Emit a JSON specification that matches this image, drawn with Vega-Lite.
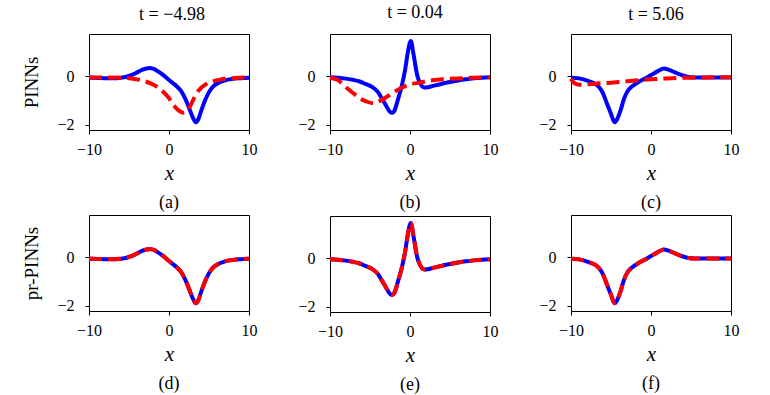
{
  "$schema": "https://vega.github.io/schema/vega-lite/v6.json",
  "background": "white",
  "padding": {"left": 22, "top": 4, "right": 5, "bottom": 2},
  "config": {
    "font": "Liberation Serif",
    "view": {"stroke": "black", "strokeWidth": 1},
    "axis": {"grid": false, "domain": false, "tickColor": "black", "tickSize": 4, "tickWidth": 1, "labelFontSize": 16, "labelColor": "black", "labelFont": "Liberation Serif", "titleFont": "Liberation Serif", "titleFontWeight": "normal", "titleColor": "black", "labelFlush": false, "labelOverlap": false},
    "axisX": {"labelFont": "Liberation Serif", "titleFontStyle": "italic", "titleFontSize": 21, "labelPadding": 7, "titlePadding": 5},
    "axisY": {"labelFont": "Liberation Serif", "titleFontSize": 19, "labelPadding": 11, "titlePadding": 15},
    "title": {"font": "Liberation Serif", "fontWeight": "normal", "fontSize": 18, "color": "black"},
    "concat": {"spacing": 39}
  },
  "datasets": {
    "exact_a": [{"x":-10,"y":-0.05},{"x":-9,"y":-0.06},{"x":-8,"y":-0.07},{"x":-7,"y":-0.07},{"x":-6,"y":-0.05},{"x":-5.3,"y":-0.01},{"x":-4.8,"y":0.04},{"x":-4.3,"y":0.11},{"x":-3.8,"y":0.2},{"x":-3.3,"y":0.28},{"x":-2.8,"y":0.33},{"x":-2.35,"y":0.35},{"x":-2,"y":0.32},{"x":-1.5,"y":0.24},{"x":-1,"y":0.13},{"x":-0.5,"y":0.0},{"x":0,"y":-0.15},{"x":0.5,"y":-0.28},{"x":1,"y":-0.42},{"x":1.5,"y":-0.6},{"x":2,"y":-0.9},{"x":2.5,"y":-1.3},{"x":3,"y":-1.72},{"x":3.35,"y":-1.9},{"x":3.7,"y":-1.75},{"x":4,"y":-1.45},{"x":4.5,"y":-1.0},{"x":5,"y":-0.65},{"x":5.5,"y":-0.42},{"x":6,"y":-0.3},{"x":6.5,"y":-0.22},{"x":7,"y":-0.16},{"x":8,"y":-0.1},{"x":9,"y":-0.07},{"x":10,"y":-0.05}],
    "pinn_a": [{"x":-10,"y":-0.04},{"x":-8,"y":-0.04},{"x":-6,"y":-0.05},{"x":-5,"y":-0.07},{"x":-4,"y":-0.12},{"x":-3,"y":-0.2},{"x":-2,"y":-0.33},{"x":-1,"y":-0.55},{"x":0,"y":-0.9},{"x":0.5,"y":-1.15},{"x":1,"y":-1.35},{"x":1.5,"y":-1.47},{"x":1.8,"y":-1.5},{"x":2.2,"y":-1.45},{"x":2.7,"y":-1.2},{"x":3.2,"y":-0.85},{"x":3.7,"y":-0.58},{"x":4.5,"y":-0.35},{"x":5.5,"y":-0.2},{"x":6.5,"y":-0.12},{"x":8,"y":-0.07},{"x":10,"y":-0.04}],
    "exact_b": [{"x":-10,"y":-0.03},{"x":-9,"y":-0.05},{"x":-8,"y":-0.09},{"x":-7,"y":-0.15},{"x":-6.4,"y":-0.2},{"x":-5.5,"y":-0.32},{"x":-4.75,"y":-0.43},{"x":-4,"y":-0.65},{"x":-3.5,"y":-0.92},{"x":-3,"y":-1.2},{"x":-2.6,"y":-1.43},{"x":-2.3,"y":-1.51},{"x":-2,"y":-1.45},{"x":-1.5,"y":-0.95},{"x":-1,"y":-0.35},{"x":-0.6,"y":0.3},{"x":-0.3,"y":0.95},{"x":0,"y":1.42},{"x":0.1,"y":1.47},{"x":0.45,"y":0.9},{"x":0.9,"y":0.05},{"x":1.3,"y":-0.3},{"x":1.8,"y":-0.46},{"x":2.2,"y":-0.45},{"x":3,"y":-0.38},{"x":4,"y":-0.3},{"x":5,"y":-0.23},{"x":6,"y":-0.17},{"x":7,"y":-0.12},{"x":8,"y":-0.08},{"x":9,"y":-0.05},{"x":10,"y":-0.03}],
    "pinn_b": [{"x":-10,"y":-0.05},{"x":-9,"y":-0.15},{"x":-8.5,"y":-0.3},{"x":-8,"y":-0.45},{"x":-7,"y":-0.72},{"x":-6.4,"y":-0.88},{"x":-5.5,"y":-1.03},{"x":-4.6,"y":-1.11},{"x":-3.8,"y":-1.02},{"x":-2.7,"y":-0.8},{"x":-2,"y":-0.65},{"x":-1,"y":-0.46},{"x":0,"y":-0.33},{"x":1.3,"y":-0.25},{"x":2,"y":-0.2},{"x":3,"y":-0.15},{"x":4,"y":-0.12},{"x":5,"y":-0.1},{"x":6,"y":-0.08},{"x":8,"y":-0.05},{"x":10,"y":-0.03}],
    "exact_c": [{"x":-10,"y":-0.05},{"x":-9,"y":-0.08},{"x":-7.8,"y":-0.19},{"x":-7,"y":-0.3},{"x":-6.5,"y":-0.44},{"x":-6,"y":-0.7},{"x":-5.5,"y":-1.13},{"x":-5,"y":-1.55},{"x":-4.55,"y":-1.9},{"x":-4.2,"y":-1.75},{"x":-3.8,"y":-1.4},{"x":-3.4,"y":-0.95},{"x":-3,"y":-0.65},{"x":-2.6,"y":-0.48},{"x":-2.2,"y":-0.37},{"x":-1.5,"y":-0.22},{"x":-1,"y":-0.13},{"x":-0.5,"y":-0.04},{"x":0,"y":0.06},{"x":0.5,"y":0.15},{"x":1,"y":0.25},{"x":1.6,"y":0.33},{"x":2.2,"y":0.28},{"x":3,"y":0.17},{"x":3.5,"y":0.1},{"x":4,"y":0.04},{"x":4.7,"y":-0.02},{"x":5.5,"y":-0.04},{"x":7,"y":-0.04},{"x":10,"y":-0.04}],
    "pinn_c": [{"x":-10,"y":-0.1},{"x":-9.7,"y":-0.25},{"x":-9.3,"y":-0.32},{"x":-9,"y":-0.34},{"x":-8,"y":-0.33},{"x":-7,"y":-0.3},{"x":-6,"y":-0.28},{"x":-5,"y":-0.26},{"x":-4,"y":-0.23},{"x":-3,"y":-0.2},{"x":-2,"y":-0.17},{"x":-1,"y":-0.14},{"x":0,"y":-0.12},{"x":1,"y":-0.1},{"x":2,"y":-0.08},{"x":3.5,"y":-0.06},{"x":5,"y":-0.05},{"x":7,"y":-0.04},{"x":10,"y":-0.03}]
  },
  "hconcat": [
    {
      "title": {"text": "t = −4.98", "anchor": "middle", "dx": 32, "offset": 10},
      "spacing": 1,
      "vconcat": [
        {"width": 160, "height": 96, "title": {"text": "(a)", "orient": "bottom", "offset": 11},
         "layer": [
          {"data": {"name": "exact_a"}, "mark": {"type": "line", "color": "#0000ff", "strokeWidth": 4, "interpolate": "monotone"},
           "encoding": {"x": {"field": "x", "type": "quantitative", "scale": {"domain": [-10, 10]}, "axis": {"values": [-10, 0, 10], "title": "x"}},
                        "y": {"field": "y", "type": "quantitative", "scale": {"domain": [-2.22, 1.76], "nice": false, "zero": false}, "axis": {"values": [-2, 0], "title": "PINNs"}}}},
          {"data": {"name": "pinn_a"}, "mark": {"type": "line", "color": "#ff0000", "strokeWidth": 4, "strokeDash": [13, 6], "interpolate": "monotone"},
           "encoding": {"x": {"field": "x", "type": "quantitative"}, "y": {"field": "y", "type": "quantitative"}}}
         ]},
        {"width": 160, "height": 96, "title": {"text": "(d)", "orient": "bottom", "offset": 11},
         "layer": [
          {"data": {"name": "exact_a"}, "mark": {"type": "line", "color": "#0000ff", "strokeWidth": 4, "interpolate": "monotone"},
           "encoding": {"x": {"field": "x", "type": "quantitative", "scale": {"domain": [-10, 10]}, "axis": {"values": [-10, 0, 10], "title": "x"}},
                        "y": {"field": "y", "type": "quantitative", "scale": {"domain": [-2.22, 1.76], "nice": false, "zero": false}, "axis": {"values": [-2, 0], "title": "pr-PINNs"}}}},
          {"data": {"name": "exact_a"}, "mark": {"type": "line", "color": "#ff0000", "strokeWidth": 4, "strokeDash": [13, 6], "interpolate": "monotone"},
           "encoding": {"x": {"field": "x", "type": "quantitative"}, "y": {"field": "y", "type": "quantitative"}}}
         ]}
      ]
    },
    {
      "title": {"text": "t = 0.04", "anchor": "middle", "dx": 17, "offset": 10},
      "spacing": 1,
      "vconcat": [
        {"width": 160, "height": 96, "title": {"text": "(b)", "orient": "bottom", "offset": 11},
         "layer": [
          {"data": {"name": "exact_b"}, "mark": {"type": "line", "color": "#0000ff", "strokeWidth": 4, "interpolate": "monotone"},
           "encoding": {"x": {"field": "x", "type": "quantitative", "scale": {"domain": [-10, 10]}, "axis": {"values": [-10, 0, 10], "title": "x"}},
                        "y": {"field": "y", "type": "quantitative", "scale": {"domain": [-2.22, 1.76], "nice": false, "zero": false}, "axis": {"values": [-2, 0], "title": null}}}},
          {"data": {"name": "pinn_b"}, "mark": {"type": "line", "color": "#ff0000", "strokeWidth": 4, "strokeDash": [13, 6], "interpolate": "monotone"},
           "encoding": {"x": {"field": "x", "type": "quantitative"}, "y": {"field": "y", "type": "quantitative"}}}
         ]},
        {"width": 160, "height": 96, "title": {"text": "(e)", "orient": "bottom", "offset": 11},
         "layer": [
          {"data": {"name": "exact_b"}, "mark": {"type": "line", "color": "#0000ff", "strokeWidth": 4, "interpolate": "monotone"},
           "encoding": {"x": {"field": "x", "type": "quantitative", "scale": {"domain": [-10, 10]}, "axis": {"values": [-10, 0, 10], "title": "x"}},
                        "y": {"field": "y", "type": "quantitative", "scale": {"domain": [-2.22, 1.76], "nice": false, "zero": false}, "axis": {"values": [-2, 0], "title": null}}}},
          {"data": {"name": "exact_b"}, "mark": {"type": "line", "color": "#ff0000", "strokeWidth": 4, "strokeDash": [13, 6], "interpolate": "monotone"},
           "encoding": {"x": {"field": "x", "type": "quantitative"}, "y": {"field": "y", "type": "quantitative"}}}
         ]}
      ]
    },
    {
      "title": {"text": "t = 5.06", "anchor": "middle", "dx": 17, "offset": 10},
      "spacing": 1,
      "vconcat": [
        {"width": 160, "height": 96, "title": {"text": "(c)", "orient": "bottom", "offset": 11},
         "layer": [
          {"data": {"name": "exact_c"}, "mark": {"type": "line", "color": "#0000ff", "strokeWidth": 4, "interpolate": "monotone"},
           "encoding": {"x": {"field": "x", "type": "quantitative", "scale": {"domain": [-10, 10]}, "axis": {"values": [-10, 0, 10], "title": "x"}},
                        "y": {"field": "y", "type": "quantitative", "scale": {"domain": [-2.22, 1.76], "nice": false, "zero": false}, "axis": {"values": [-2, 0], "title": null}}}},
          {"data": {"name": "pinn_c"}, "mark": {"type": "line", "color": "#ff0000", "strokeWidth": 4, "strokeDash": [13, 6], "interpolate": "monotone"},
           "encoding": {"x": {"field": "x", "type": "quantitative"}, "y": {"field": "y", "type": "quantitative"}}}
         ]},
        {"width": 160, "height": 96, "title": {"text": "(f)", "orient": "bottom", "offset": 11},
         "layer": [
          {"data": {"name": "exact_c"}, "mark": {"type": "line", "color": "#0000ff", "strokeWidth": 4, "interpolate": "monotone"},
           "encoding": {"x": {"field": "x", "type": "quantitative", "scale": {"domain": [-10, 10]}, "axis": {"values": [-10, 0, 10], "title": "x"}},
                        "y": {"field": "y", "type": "quantitative", "scale": {"domain": [-2.22, 1.76], "nice": false, "zero": false}, "axis": {"values": [-2, 0], "title": null}}}},
          {"data": {"name": "exact_c"}, "mark": {"type": "line", "color": "#ff0000", "strokeWidth": 4, "strokeDash": [13, 6], "interpolate": "monotone"},
           "encoding": {"x": {"field": "x", "type": "quantitative"}, "y": {"field": "y", "type": "quantitative"}}}
         ]}
      ]
    }
  ]
}
